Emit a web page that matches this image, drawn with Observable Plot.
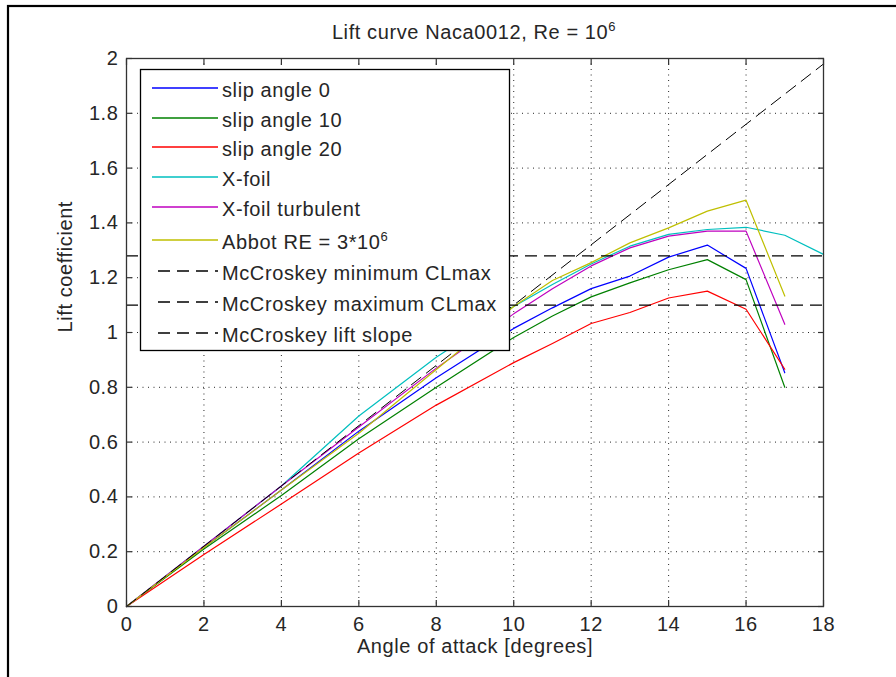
<!DOCTYPE html>
<html>
<head>
<meta charset="utf-8">
<script src="https://cdn.jsdelivr.net/npm/d3@7"></script>
<script src="https://cdn.jsdelivr.net/npm/@observablehq/plot@0.6"></script>
<style>
  html, body { margin: 0; padding: 0; background: #fff; }
  svg { display: block; }
</style>
</head>
<body>
<div id="chart"></div>
<script>
// ---------- data ----------
const titleText = "Lift curve Naca0012, Re = 10";
const titleSup = "6";
const xLabel = "Angle of attack [degrees]";
const yLabel = "Lift coefficient";

const xTicks = [0, 2, 4, 6, 8, 10, 12, 14, 16, 18];
const yTicks = [0, 0.2, 0.4, 0.6, 0.8, 1, 1.2, 1.4, 1.6, 1.8, 2];

const alpha = [0, 2, 4, 6, 8, 10, 11, 12, 13, 14, 15, 16, 17];
const alphaXfoil = [0, 2, 4, 6, 8, 10, 11, 12, 13, 14, 15, 16, 17, 18];

const slip0  = [0, 0.215, 0.425, 0.640, 0.835, 1.015, 1.090, 1.160, 1.206, 1.275, 1.319, 1.234, 0.853];
const slip10 = [0, 0.210, 0.405, 0.612, 0.800, 0.982, 1.060, 1.130, 1.181, 1.229, 1.266, 1.193, 0.800];
const slip20 = [0, 0.190, 0.374, 0.560, 0.735, 0.890, 0.960, 1.033, 1.073, 1.126, 1.151, 1.085, 0.866];
const xfoil  = [0, 0.220, 0.440, 0.695, 0.910, 1.095, 1.175, 1.250, 1.315, 1.358, 1.376, 1.384, 1.355, 1.285];
const xfoilTurb = [0, 0.220, 0.440, 0.655, 0.870, 1.068, 1.160, 1.243, 1.309, 1.352, 1.370, 1.370, 1.030];
const abbot  = [0, 0.215, 0.425, 0.632, 0.865, 1.095, 1.190, 1.255, 1.327, 1.382, 1.443, 1.483, 1.133];

const mcMinCLmax = 1.1;
const mcMaxCLmax = 1.28;
const slopeAlpha = [0, 18];
const slopeCL = [0, 1.98];

const seriesNames = ["slip angle 0", "slip angle 10", "slip angle 20", "X-foil", "X-foil turbulent", "Abbot RE = 3*10"];
const seriesColors = ["#0000FF", "#008000", "#FF0000", "#00BFBF", "#BF00BF", "#BFBF00"];
const seriesX = [alpha, alpha, alpha, alphaXfoil, alpha, alpha];
const seriesY = [slip0, slip10, slip20, xfoil, xfoilTurb, abbot];
const dashedNames = ["McCroskey minimum CLmax", "McCroskey maximum CLmax", "McCroskey lift slope"];

// ---------- build ----------
const rows = [];
seriesNames.forEach((name, i) => {
  seriesX[i].forEach((x, j) => rows.push({series: name, x, y: seriesY[i][j]}));
});
const slopeRows = slopeAlpha.map((x, j) => ({x, y: slopeCL[j]}));

const ink = "#262626";
const dash = "12,7";
const font = "'Liberation Sans', Arial, sans-serif";
const fs = 20;
const ls = "0.6px";
const gridStyle = {stroke: "#000", strokeOpacity: 0.85, strokeWidth: 1, strokeDasharray: "1,4.5"};
const tk = 6;
const tickOnly = {tickSize: tk, tickFormat: () => "", label: null, stroke: "#333", strokeWidth: 1.2};

const chart = Plot.plot({
  width: 896,
  height: 677,
  marginLeft: 126,
  marginRight: 73,
  marginTop: 58,
  marginBottom: 71,
  style: {fontFamily: font, fontSize: fs + "px", background: "#fff", color: ink, letterSpacing: ls},
  x: {domain: [0, 18], label: null},
  y: {domain: [0, 2], label: null},
  marks: [
    Plot.gridX(xTicks.slice(1, -1), gridStyle),
    Plot.gridY(yTicks.slice(1, -1), gridStyle),
    ...seriesNames.map((name, i) =>
      Plot.line(rows.filter(d => d.series === name), {x: "x", y: "y", stroke: seriesColors[i], strokeWidth: 1.2})
    ),
    Plot.ruleY([mcMinCLmax], {stroke: "#000", strokeWidth: 1.3, strokeDasharray: dash}),
    Plot.ruleY([mcMaxCLmax], {stroke: "#000", strokeWidth: 1.3, strokeDasharray: dash}),
    Plot.line(slopeRows, {x: "x", y: "y", stroke: "#000", strokeWidth: 1, strokeDasharray: dash}),
    Plot.frame({stroke: "#333", strokeWidth: 1.3}),
    // inward ticks on all four sides (axis ticks shifted into the frame)
    Plot.axisX(xTicks, {anchor: "bottom", dy: -tk, ...tickOnly}),
    Plot.axisX(xTicks, {anchor: "top", dy: tk, ...tickOnly}),
    Plot.axisY(yTicks, {anchor: "left", dx: tk, ...tickOnly}),
    Plot.axisY(yTicks, {anchor: "right", dx: -tk, ...tickOnly}),
    // tick labels
    Plot.axisX(xTicks, {anchor: "bottom", tickSize: 0, tickPadding: 10, tickFormat: d => String(d), label: null, fill: ink}),
    Plot.axisY(yTicks, {anchor: "left", tickSize: 0, tickPadding: 8, tickFormat: d => String(+d.toFixed(1)), label: null, fill: ink}),
    Plot.text([xLabel], {frameAnchor: "bottom", dy: 46, text: d => d, fill: ink, fontSize: fs}),
    Plot.text([yLabel], {frameAnchor: "left", dx: -61, rotate: -90, text: d => d, fill: ink, fontSize: fs})
  ]
});
document.getElementById("chart").append(chart);

// ---------- title, legend and figure border ----------
const svg = d3.select(chart);
const title = svg.append("text")
  .attr("x", 474).attr("y", 39)
  .attr("text-anchor", "middle")
  .attr("font-family", font).attr("font-size", fs).attr("letter-spacing", ls).attr("fill", ink)
  .text(titleText);
title.append("tspan").attr("dy", -8).attr("font-size", 13).text(titleSup);

const lg = svg.append("g")
  .attr("font-family", font).attr("font-size", fs).attr("letter-spacing", ls)
  .attr("fill", ink).attr("text-anchor", "start");
lg.append("rect")
  .attr("x", 140.5).attr("y", 69.5).attr("width", 369).attr("height", 281)
  .attr("fill", "#fff").attr("stroke", "#000").attr("stroke-width", 1.3);
const rowY = [88, 118, 147, 177, 207, 240, 271, 302, 333];
const allNames = [...seriesNames, ...dashedNames];
allNames.forEach((name, i) => {
  const y = rowY[i];
  const isDash = i >= seriesNames.length;
  lg.append("line")
    .attr("x1", isDash ? 158 : 152).attr("x2", 218)
    .attr("y1", y).attr("y2", y)
    .attr("stroke", isDash ? "#000" : seriesColors[i])
    .attr("stroke-width", isDash ? 1.3 : 1.5)
    .attr("stroke-dasharray", isDash ? dash : null);
  const t = lg.append("text").attr("x", 222).attr("y", y + 2).attr("dy", "0.35em").text(name);
  if (name.startsWith("Abbot")) t.append("tspan").attr("dy", -8).attr("font-size", 13).text(titleSup);
});

svg.append("rect")
  .attr("x", 8).attr("y", 6).attr("width", 1000).attr("height", 1000)
  .attr("fill", "none").attr("stroke", "#000").attr("stroke-width", 2.2);
</script>
</body>
</html>
